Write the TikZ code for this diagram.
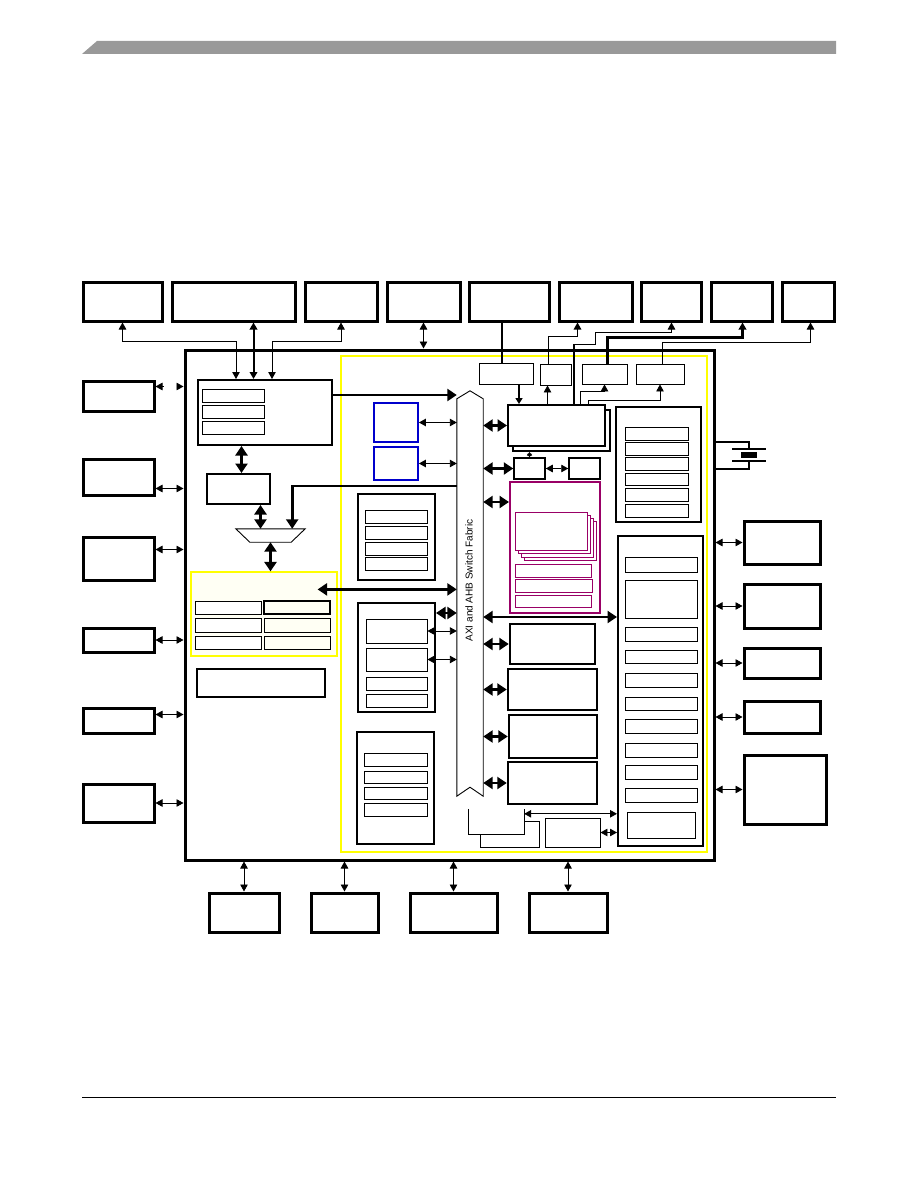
\documentclass[tikz,border=0pt]{standalone}
\usepackage{fontspec}
\setmainfont{Liberation Sans}
\usetikzlibrary{arrows.meta, positioning, fit, calc}
\definecolor{chipyellow}{RGB}{255,255,0}
\definecolor{paleyellow}{RGB}{255,255,244}
\definecolor{coreblue}{RGB}{0,0,204}
\definecolor{gpumagenta}{RGB}{153,0,102}
\definecolor{bargray}{RGB}{153,153,153}

\begin{document}
\begin{tikzpicture}[
    x=1pt, y=-1pt,
    ext/.style={rectangle, draw=black, line width=3pt, inner sep=0pt, fill=white},
    group/.style={rectangle, draw=black, line width=2pt, inner sep=0pt, fill=white},
    cell/.style={rectangle, draw=black, line width=0.9pt, inner sep=0pt, fill=white},
    frame/.style={rectangle, draw=none, inner sep=0pt},
    link/.style={line width=0.9pt, {Triangle[length=7pt,width=7.5pt]}-{Triangle[length=7pt,width=7.5pt]}},
    linkend/.style={line width=0.9pt, -{Triangle[length=7pt,width=7.5pt]}},
    bus/.style={line width=2.6pt, {Triangle[length=9.5pt,width=12pt]}-{Triangle[length=9.5pt,width=12pt]}},
    busend/.style={line width=2.6pt, -{Triangle[length=9.5pt,width=12pt]}},
    wire/.style={line width=2.2pt}
]
\useasboundingbox (0,0) rectangle (918,1188);
\fill[white] (0,0) rectangle (918,1188);

% Page header and footer
\fill[bargray] (82,54) -- (97,41) -- (836,41) -- (836,54) -- cycle;
\draw[line width=1pt] (82,1097) -- (836,1097);

% Chip outline
\node[group, line width=3pt, fit={(185,350) (714,860)}] (chip) {};
\node[frame, draw=chipyellow, line width=1.5pt, fit={(341,356) (707,852)}] (domain) {};

% Outside parts, top row
\node[ext, fit={(83,282) (162,321)}] (top1) {};
\node[ext, fit={(172,282) (295,321)}] (top2) {};
\node[ext, fit={(305,282) (377,321)}] (top3) {};
\node[ext, fit={(387,282) (460,321)}] (top4) {};
\node[ext, fit={(469,282) (549,321)}] (top5) {};
\node[ext, fit={(559,282) (632,321)}] (top6) {};
\node[ext, fit={(641,282) (701,321)}] (top7) {};
\node[ext, fit={(711,282) (772,321)}] (top8) {};
\node[ext, fit={(782,282) (834,321)}] (top9) {};

% Outside parts, left column
\node[ext, fit={(83,381) (154,411)}] (left1) {};
\node[ext, fit={(83,459) (154,495)}] (left2) {};
\node[ext, fit={(83,537) (154,580)}] (left3) {};
\node[ext, fit={(83,628) (154,652)}] (left4) {};
\node[ext, fit={(83,708) (154,733)}] (left5) {};
\node[ext, fit={(83,784) (154,822)}] (left6) {};

% Outside parts, right column
\node[ext, fit={(744,521) (820,564)}] (right1) {};
\node[ext, fit={(744,584) (820,628)}] (right2) {};
\node[ext, fit={(744,648) (820,678)}] (right3) {};
\node[ext, fit={(744,701) (820,733)}] (right4) {};
\node[ext, fit={(744,755) (826,824)}] (right5) {};

% Outside parts, bottom row
\node[ext, fit={(209,893) (279,932)}] (bot1) {};
\node[ext, fit={(311,893) (378,932)}] (bot2) {};
\node[ext, fit={(410,893) (497,932)}] (bot3) {};
\node[ext, fit={(529,893) (607,932)}] (bot4) {};

% Left half of the chip
\node[group, fit={(198,380) (332,445)}] (ctrl) {};
\node[cell, fit={(202,389) (264,402)}] (ctrl1) {};
\node[cell, fit={(202,405) (264,418)}] (ctrl2) {};
\node[cell, fit={(202,421) (264,434)}] (ctrl3) {};
\node[group, fit={(207,474) (270,504)}] (buf) {};
\node[frame, fit={(236,529) (305,542)}] (mux) {};
\draw[line width=0.9pt, fill=white] (mux.north west) -- (mux.north east) -- ($(mux.south east)+(-14,0)$) -- ($(mux.south west)+(14,0)$) -- cycle;
\node[frame, fill=paleyellow, draw=chipyellow, line width=1.2pt, fit={(191,572) (337,656)}] (ram) {};
\node[cell, fit={(195,601) (261,614)}] (ram1) {};
\node[cell, fill=paleyellow, line width=2pt, fit={(264,601) (330,614)}] (ram2) {};
\node[cell, fit={(195,618) (261,632)}] (ram3) {};
\node[cell, fill=paleyellow, fit={(264,618) (330,632)}] (ram4) {};
\node[cell, fit={(195,636) (261,649)}] (ram5) {};
\node[cell, fill=paleyellow, fit={(264,636) (330,649)}] (ram6) {};
\node[group, fit={(197,669) (325,697)}] (rom) {};

% Cores
\node[frame, draw=coreblue, line width=1.8pt, fit={(374,403) (418,442)}] (core1) {};
\node[frame, draw=coreblue, line width=1.8pt, fit={(374,447) (418,480)}] (core2) {};

\node[group, fit={(358,494) (435,580)}] (ipa) {};
\node[cell, fit={(365,510) (427,523)}] (ipa1) {};
\node[cell, fit={(365,526) (427,539)}] (ipa2) {};
\node[cell, fit={(365,542) (427,555)}] (ipa3) {};
\node[cell, fit={(365,557) (427,570)}] (ipa4) {};

\node[group, fit={(358,603) (435,712)}] (ipb) {};
\node[cell, fit={(366,619) (427,643)}] (ipb1) {};
\node[cell, fit={(366,648) (427,671)}] (ipb2) {};
\node[cell, fit={(366,677) (427,690)}] (ipb3) {};
\node[cell, fit={(366,694) (427,707)}] (ipb4) {};

\node[group, fit={(357,732) (434,844)}] (ipc) {};
\node[cell, fit={(364,753) (427,766)}] (ipc1) {};
\node[cell, fit={(364,771) (427,783)}] (ipc2) {};
\node[cell, fit={(364,787) (427,799)}] (ipc3) {};
\node[cell, fit={(364,803) (427,816)}] (ipc4) {};

% Switch fabric
\node[frame, fit={(457,399) (483,796)}] (sw) {};
\draw[line width=0.9pt, fill=white] (sw.south west) -- (sw.north west) -- ($(sw.north)+(0,-8)$) -- (sw.north east) -- (sw.south east) -- ($(sw.south)+(0,-9)$) -- cycle;
\node[rotate=90, inner sep=0pt, font=\fontsize{10}{12}\selectfont] (swlabel) at ($(sw.center)+(-1,-17)$) {AXI and AHB Switch Fabric};

% Right half of the chip
\node[cell, fit={(479,363) (533,384)}] (pa) {};
\node[cell, fit={(540,364) (571,385)}] (pb) {};
\node[cell, fit={(582,364) (627,384)}] (pc) {};
\node[cell, fit={(636,364) (684,384)}] (pd) {};
\node[group, fit={(513,410) (610,451)}] (cpushadow) {};
\node[group, fit={(508,405) (605,446)}] (cpu) {};
\node[cell, line width=1.5pt, fit={(514,458) (545,479)}] (cache) {};
\node[cell, line width=1.5pt, fit={(569,458) (600,479)}] (cache2) {};

\node[frame, draw=gpumagenta, line width=2pt, fit={(510,482) (600,613)}] (gpu) {};
\node[cell, draw=gpumagenta, fit={(524,521) (596,560)}] (gpu4) {};
\node[cell, draw=gpumagenta, fit={(521,518) (593,557)}] (gpu3) {};
\node[cell, draw=gpumagenta, fit={(518,515) (590,553)}] (gpu2) {};
\node[cell, draw=gpumagenta, fit={(515,512) (587,550)}] (gpu1) {};
\node[cell, draw=gpumagenta, fit={(515,564) (591,577)}] (gpu5) {};
\node[cell, draw=gpumagenta, fit={(515,579) (592,592)}] (gpu6) {};
\node[cell, draw=gpumagenta, fit={(515,595) (591,607)}] (gpu7) {};

\node[group, line width=2.5pt, fit={(510,624) (595,664)}] (blkl) {};
\node[group, line width=2.5pt, fit={(508,669) (597,710)}] (blkm) {};
\node[group, line width=2.5pt, fit={(509,715) (597,758)}] (blkn) {};
\node[group, line width=2.5pt, fit={(508,762) (597,804)}] (blko) {};

\node[cell, fit={(480,821) (539,847)}] (dmaback) {};
\node[frame, fill=white, fit={(469,809) (524,834)}] (dma) {};
\draw[line width=0.9pt] (dma.north west) -- (dma.south west) -- (dma.south east) -- (dma.north east);
\node[cell, fit={(545,818) (600,847)}] (timer) {};

\node[group, fit={(616,407) (701,522)}] (pwr) {};
\node[cell, fit={(625,427) (688,440)}] (pwr1) {};
\node[cell, fit={(625,442) (688,455)}] (pwr2) {};
\node[cell, fit={(625,457) (688,470)}] (pwr3) {};
\node[cell, fit={(625,473) (688,485)}] (pwr4) {};
\node[cell, fit={(625,488) (688,501)}] (pwr5) {};
\node[cell, fit={(625,504) (688,517)}] (pwr6) {};

\node[group, fit={(618,536) (703,846)}] (per) {};
\node[cell, fit={(625,557) (697,572)}] (per1) {};
\node[cell, fit={(625,580) (697,618)}] (per2) {};
\node[cell, fit={(625,627) (697,641)}] (per3) {};
\node[cell, fit={(625,650) (697,663)}] (per4) {};
\node[cell, fit={(625,673) (697,687)}] (per5) {};
\node[cell, fit={(625,697) (697,710)}] (per6) {};
\node[cell, fit={(625,719) (697,733)}] (per7) {};
\node[cell, fit={(625,743) (697,757)}] (per8) {};
\node[cell, fit={(625,765) (697,779)}] (per9) {};
\node[cell, fit={(625,788) (697,802)}] (per10) {};
\node[cell, fit={(627,812) (695,838)}] (per11) {};

% Crystal
\node[fill=black, inner sep=0pt, fit={(741,452) (757,458)}] (xtal) {};
\draw[line width=2pt] ($(xtal.north)+(-17,-3)$) -- ++(34,0);
\draw[line width=2pt] ($(xtal.south)+(-17,3)$) -- ++(34,0);
\draw[line width=2pt] ($(xtal.north)+(0,-3)$) -- ++(0,-7) coordinate (xt1) -- (xt1 -| chip.east);
\draw[line width=2pt] ($(xtal.south)+(0,3)$) -- ++(0,8) coordinate (xt2) -- (xt2 -| chip.east);

% Top connections
\draw[link] (top1.south) -- ++(0,19) -| ($(ctrl.north west)+(39,0)$);
\draw[link, line width=2pt] ($(top2.south west)+(83,0)$) coordinate (t2) -- (t2 |- ctrl.north);
\draw[link] (top3.south) -- ++(0,19) -| ($(ctrl.north west)+(75,0)$);
\draw[link] (top4.south) -- (top4.south |- chip.north);
\draw[wire] ($(top5.south)+(-7,0)$) coordinate (t5) -- (t5 |- pa.north);
\draw[linkend, line width=1.5pt] ($(pb.north west)+(9,0)$) -- ++(0,-27) -| ($(top6.south west)+(20,0)$);
\coordinate (j7) at ($(cpu.north west)+(67,-60)$);
\draw[linkend] (j7) -- ++(21,0) -- ++(0,-12) -| ($(top7.south west)+(32,0)$);
\draw[wire] (j7) -- (j7 |- cpu.north);
\draw[linkend, line width=2.2pt] ($(pc.north)+(3,0)$) -- ++(0,-26) -| ($(top8.south west)+(33,0)$);
\draw[linkend] ($(pd.north)+(2,0)$) -- ++(0,-21) -| ($(top9.south west)+(30,0)$);

% CPU connections
\draw[wire, -{Triangle[length=6pt,width=7pt]}] ($(pa.south)+(13,0)$) coordinate (a1) -- (a1 |- cpu.north);
\coordinate (b1) at ($(pb.south)+(-8,0)$);
\draw[linkend] (b1 |- cpu.north) -- (b1);
\draw[linkend] ($(cpu.north west)+(73,0)$) -- ++(0,-13) -| (pc.south);
\draw[linkend] ($(cpu.north west)+(81,0)$) -- ++(0,-4) -| (pd.south);
\draw[line width=0.8pt, {Triangle[length=3.5pt,width=5pt]}-{Triangle[length=3.5pt,width=5pt]}] (cache.north) -- (cache.north |- cpushadow.south);
\draw[link] (cache.east) -- (cache2.west);

% Switch fabric connections
\draw[bus] (sw.east |- cpu.west) -- (cpu.west);
\draw[bus] (sw.east |- cache.west) -- (cache.west);
\draw[bus] ($(gpu.north west)+(0,21)$) coordinate (g1) -- (g1 -| sw.east);
\draw[bus] ($(per.north west)+(0,82)$) coordinate (q1) -- (q1 -| sw.east);
\draw[bus] (sw.east |- blkl.west) -- (blkl.west);
\draw[bus] (sw.east |- blkm.west) -- (blkm.west);
\draw[bus] (sw.east |- blkn.west) -- (blkn.west);
\draw[bus] (sw.east |- blko.west) -- (blko.west);
\draw[busend] ($(ctrl.north east)+(0,16)$) coordinate (c4) -- (c4 -| sw.west);
\draw[link] (core1.east) -- (core1.east -| sw.west);
\draw[link] (core2.east) -- (core2.east -| sw.west);
\draw[busend] ($(sw.north west)+(0,87)$) -| ($(mux.north east)+(-13,0)$);
\draw[bus] ($(buf.south)+(22,0)$) coordinate (h1) -- (h1 |- mux.north);
\draw[bus] ($(buf.north)+(3,0)$) coordinate (h2) -- (h2 |- ctrl.south);
\draw[bus] (mux.south) -- (mux.south |- ram.north);
\draw[bus] ($(ram.north east)+(-20,18)$) coordinate (r7) -- (r7 -| sw.west);
\draw[bus] ($(ipb.north east)+(0,11)$) coordinate (jj) -- (jj -| sw.west);
\draw[link] (ipb1.east) -- (ipb1.east -| sw.west);
\draw[link] (ipb2.east) -- (ipb2.east -| sw.west);
\draw[link] ($(dma.north east)+(0,5)$) coordinate (d1) -- (d1 -| per.west);
\draw[link] (timer.east) -- (timer.east -| per.west);

% Pins, left side
\coordinate (l1) at ($(left1.north east)+(0,7)$);
\draw[linkend] ($(l1)+(8,0)$) -- (l1);
\draw[linkend] ($(l1)+(22,0)$) -- (l1 -| chip.west);
\draw[link] ($(left2.south east)+(0,-8)$) coordinate (l2) -- (l2 -| chip.west);
\draw[link] ($(left3.north east)+(0,14)$) coordinate (l3) -- (l3 -| chip.west);
\draw[link] (left4.east) -- (left4.east -| chip.west);
\draw[link] ($(left5.north east)+(0,8)$) coordinate (l5) -- (l5 -| chip.west);
\draw[link] (left6.east) -- (left6.east -| chip.west);

% Pins, right side
\draw[link] (right1.west -| chip.east) -- (right1.west);
\draw[link] (right2.west -| chip.east) -- (right2.west);
\draw[link] (right3.west -| chip.east) -- (right3.west);
\draw[link] (right4.west -| chip.east) -- (right4.west);
\draw[link] (right5.west -| chip.east) -- (right5.west);

% Pins, bottom side
\draw[link] (bot1.north |- chip.south) -- (bot1.north);
\draw[link] (bot2.north |- chip.south) -- (bot2.north);
\draw[link] (bot3.north |- chip.south) -- (bot3.north);
\draw[link] (bot4.north |- chip.south) -- (bot4.north);

\end{tikzpicture}
\end{document}
